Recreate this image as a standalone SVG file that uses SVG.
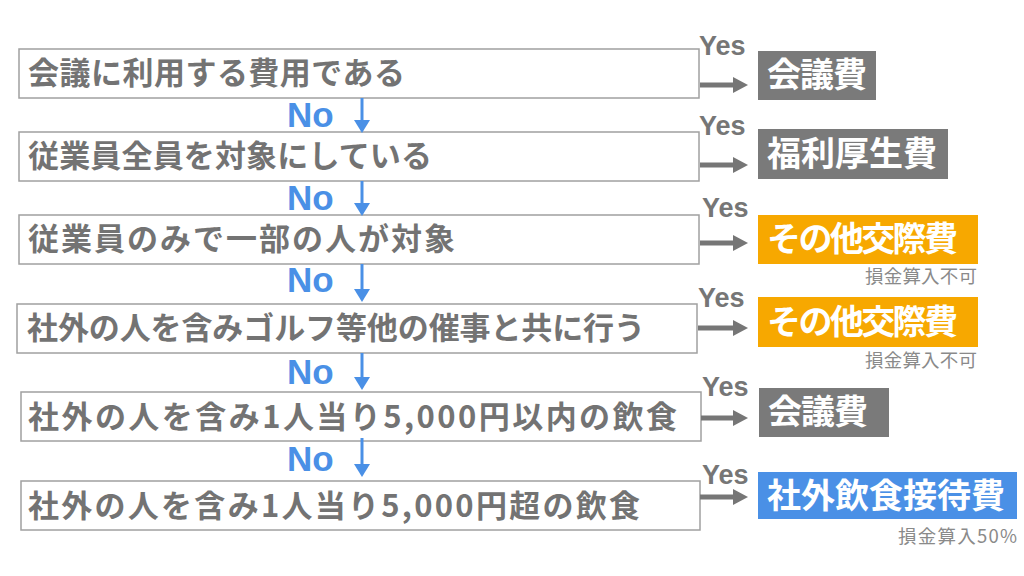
<svg xmlns="http://www.w3.org/2000/svg" width="1024" height="576" viewBox="0 0 1024 576">
<style>
.box{fill:#ffffff;stroke:#a0a0a0;stroke-width:1.5}
.q{font-family:"Noto Sans CJK JP","Noto Sans",sans-serif;font-weight:bold;font-size:31px;fill:#737373}
.r{font-family:"Noto Sans CJK JP","Noto Sans",sans-serif;font-weight:bold;font-size:34px;fill:#ffffff}
.sub{font-family:"Noto Sans CJK JP","Noto Sans",sans-serif;font-size:18.5px;fill:#8a8a8a}
.no{font-family:"Liberation Sans",Arial,sans-serif;font-weight:bold;font-size:35px;fill:#4a90e6}
.yes{font-family:"Liberation Sans",Arial,sans-serif;font-weight:bold;font-size:27px;fill:#767676}
.vl{stroke:#4a90e6;stroke-width:3;fill:none}
.vh{fill:#4a90e6}
.hl{stroke:#767676;stroke-width:5;fill:none}
.hh{fill:#767676}
.grey{fill:#7a7a7a}
.orange{fill:#f7a800}
.blue{fill:#4a90e6}
</style>
<rect width="1024" height="576" fill="#ffffff"/>

<g id="q1"><rect class="box" x="19" y="49" width="680" height="49"/><text class="q" x="28" y="84" textLength="377">会議に利用する費用である</text></g>
<g id="q2"><rect class="box" x="19" y="132" width="680" height="49"/><text class="q" x="28" y="167" textLength="404">従業員全員を対象にしている</text></g>
<g id="q3"><rect class="box" x="19" y="215" width="680" height="49"/><text class="q" x="28" y="250" textLength="427">従業員のみで一部の人が対象</text></g>
<g id="q4"><rect class="box" x="17" y="304" width="680" height="49"/><text class="q" x="27" y="339" textLength="618">社外の人を含みゴルフ等他の催事と共に行う</text></g>
<g id="q5"><rect class="box" x="21" y="392" width="680" height="49"/><text class="q" x="28" y="428" textLength="649">社外の人を含み1人当り5,000円以内の飲食</text></g>
<g id="q6"><rect class="box" x="21" y="481" width="679" height="49"/><text class="q" x="28" y="517" textLength="612">社外の人を含み1人当り5,000円超の飲食</text></g>

<g id="r1"><rect class="grey" x="758" y="51" width="118" height="49"/><text class="r" x="767" y="87" textLength="100">会議費</text></g>
<g id="r2"><rect class="grey" x="758" y="129" width="190" height="50"/><text class="r" x="767" y="166" textLength="170">福利厚生費</text></g>
<g id="r3"><rect class="orange" x="758" y="215" width="220" height="49"/><text class="r" x="767" y="251" textLength="191">その他交際費</text><text class="sub" x="865" y="283" textLength="112">損金算入不可</text></g>
<g id="r4"><rect class="orange" x="758" y="297" width="220" height="50"/><text class="r" x="767" y="334" textLength="191">その他交際費</text><text class="sub" x="865" y="367" textLength="112">損金算入不可</text></g>
<g id="r5"><rect class="grey" x="759" y="388" width="130" height="49"/><text class="r" x="768" y="424" textLength="100">会議費</text></g>
<g id="r6"><rect class="blue" x="758" y="472" width="259" height="47"/><text class="r" x="767" y="508" textLength="238">社外飲食接待費</text><text class="sub" x="898" y="543" textLength="119">損金算入50%</text></g>

<g id="connectors">
<text class="no" x="287" y="127">No</text>
<line class="vl" x1="362" y1="98" x2="362" y2="122"/><polygon class="vh" points="354,120 370,120 362,133"/>
<text class="no" x="287" y="210">No</text>
<line class="vl" x1="362" y1="181" x2="362" y2="205"/><polygon class="vh" points="354,203 370,203 362,216"/>
<text class="no" x="287" y="292">No</text>
<line class="vl" x1="362" y1="264" x2="362" y2="291"/><polygon class="vh" points="354,289 370,289 362,302"/>
<text class="no" x="287" y="384">No</text>
<line class="vl" x1="362" y1="353" x2="362" y2="379"/><polygon class="vh" points="354,377 370,377 362,390"/>
<text class="no" x="287" y="471">No</text>
<line class="vl" x1="362" y1="438" x2="362" y2="466"/><polygon class="vh" points="354,464 370,464 362,477"/>

<text class="yes" x="699" y="55">Yes</text>
<line class="hl" x1="700" y1="85" x2="735" y2="85"/><polygon class="hh" points="733,77 733,93 748,85"/>
<text class="yes" x="699" y="135">Yes</text>
<line class="hl" x1="700" y1="165" x2="735" y2="165"/><polygon class="hh" points="733,157 733,173 748,165"/>
<text class="yes" x="702" y="217">Yes</text>
<line class="hl" x1="700" y1="243" x2="735" y2="243"/><polygon class="hh" points="733,235 733,251 748,243"/>
<text class="yes" x="698" y="307">Yes</text>
<line class="hl" x1="698" y1="328" x2="735" y2="328"/><polygon class="hh" points="733,320 733,336 748,328"/>
<text class="yes" x="702" y="396">Yes</text>
<line class="hl" x1="701" y1="418" x2="735" y2="418"/><polygon class="hh" points="733,410 733,426 748,418"/>
<text class="yes" x="702" y="484">Yes</text>
<line class="hl" x1="700" y1="497" x2="735" y2="497"/><polygon class="hh" points="733,489 733,505 748,497"/>
</g>
</svg>
